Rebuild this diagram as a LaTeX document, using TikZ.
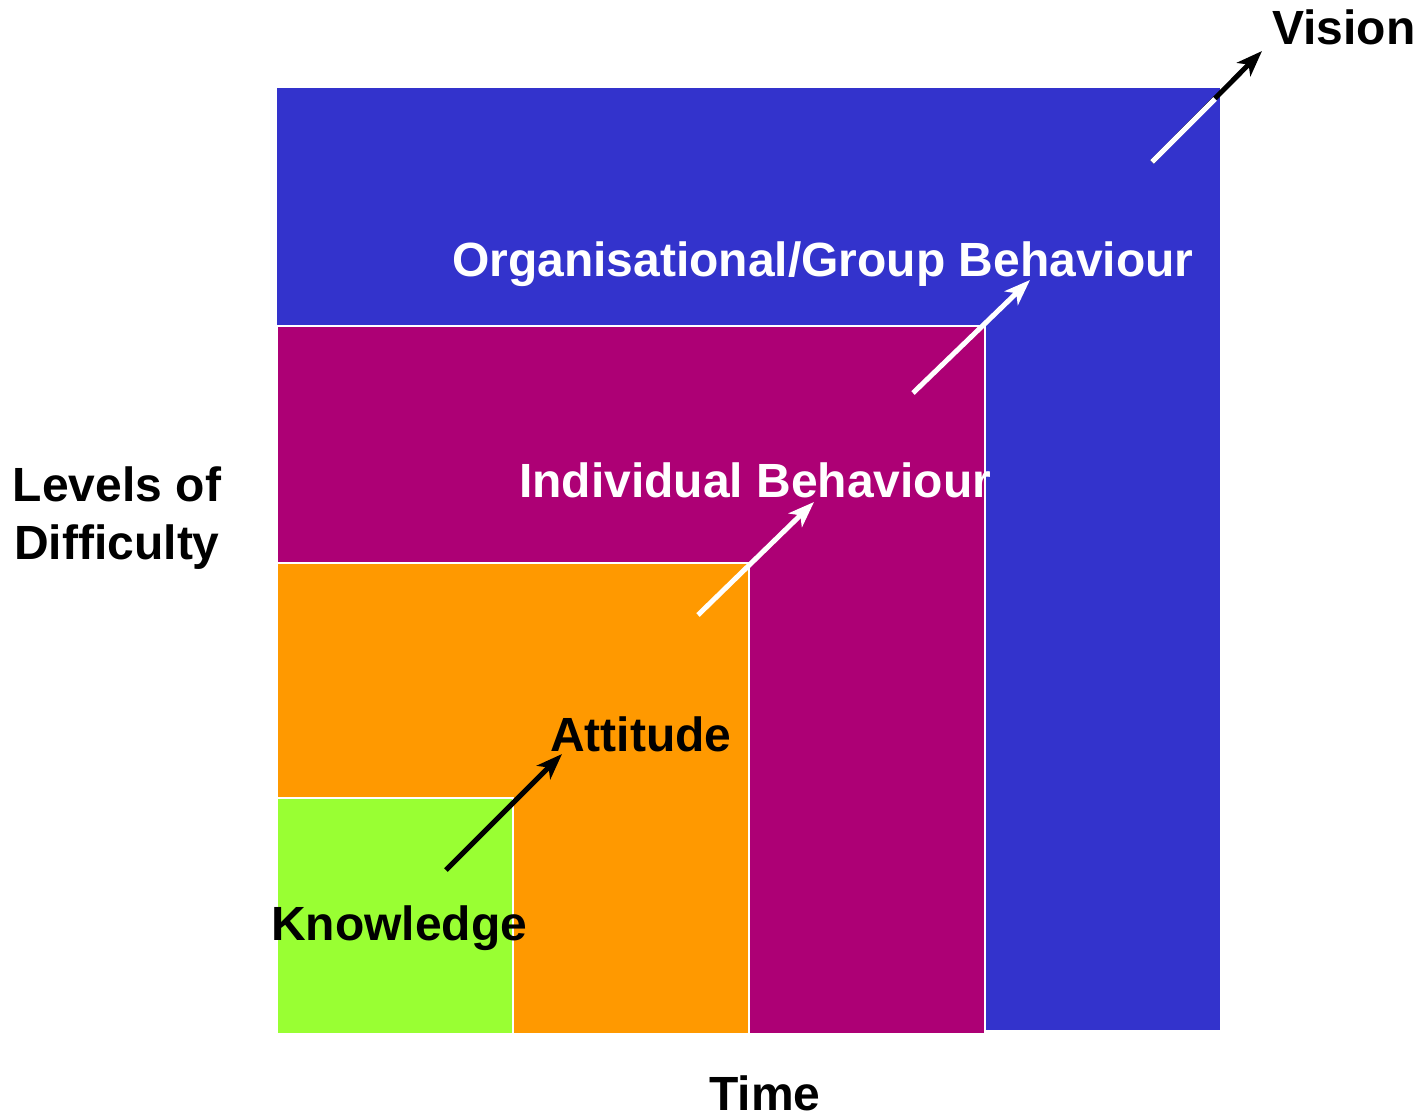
\documentclass[tikz,border=0pt]{standalone}
\usepackage{fontspec}
\setmainfont{Liberation Sans}
\usetikzlibrary{arrows.meta}
\definecolor{cblue}{HTML}{3333CC}
\definecolor{cpurple}{HTML}{AD0075}
\definecolor{corange}{HTML}{FF9900}
\definecolor{cgreen}{HTML}{99FF33}
\tikzset{
  block/.style={draw=white, line width=2pt},
  lbl/.style={font=\bfseries\fontsize{48}{56}\selectfont, anchor=base west, inner sep=0pt},
  arr/.style={line width=5pt, -{Stealth[length=26pt,width=19pt,inset=7pt]}},
}
\begin{document}
\begin{tikzpicture}[x=1pt,y=-1pt]
\useasboundingbox (0,0) rectangle (1421,1119);
% blocks
\fill[cblue] (277,88) rectangle (1220,1030);
\draw[block, fill=cpurple] (277,326) rectangle (985,1034);
\draw[block, fill=corange] (277,563) rectangle (749,1034);
\draw[block, fill=cgreen] (277,798) rectangle (513,1034);
% arrow end points
\coordinate (k1) at (446,870);
\coordinate (k2) at (562,754);
\coordinate (a1) at (698,615);
\coordinate (a2) at (814,502);
\coordinate (i1) at (913,393);
\coordinate (i2) at (1030,280);
\coordinate (v1) at (1152,162);
\coordinate (vm) at (1215,99);
\coordinate (v2) at (1262,51);
% arrows
\draw[arr, black] (k1) -- (k2);
\draw[arr, white] (a1) -- (a2);
\draw[arr, white] (i1) -- (i2);
\draw[arr, black] (v1) -- (v2);
\draw[line width=5pt, white] (v1) -- (vm);
% labels
\node[lbl] (vision) at (1272,44) {Vision};
\node[lbl, white] (org) at (452,276) {Organisational/Group Behaviour};
\node[lbl, white] (ind) at (519,497) {Individual Behaviour};
\node[lbl] (att) at (550,751) {Attitude};
\node[lbl] (know) at (271,940) {Knowledge};
\node[font=\bfseries\fontsize{48}{58}\selectfont, align=center, inner sep=0pt, anchor=base] (lev) at (117,559) {Levels of\\Difficulty};
\node[lbl] (time) at (709,1110) {Time};
\end{tikzpicture}
\end{document}
